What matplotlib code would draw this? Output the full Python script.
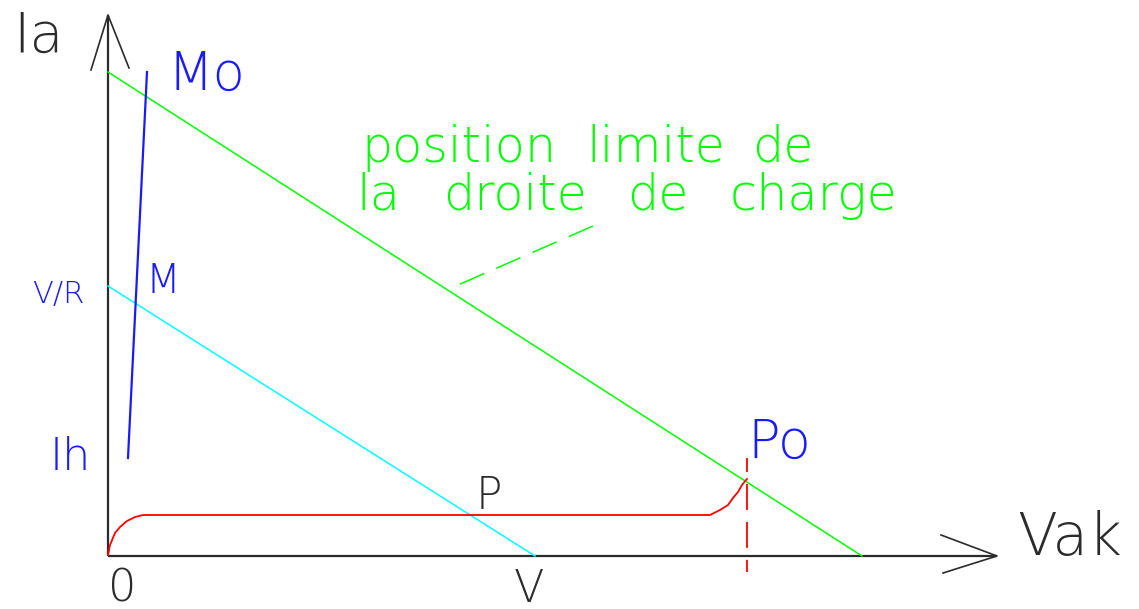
import matplotlib
matplotlib.use("Agg")
import matplotlib.pyplot as plt

plt.rcParams['lines.scale_dashes'] = False

# ---- data (units: drawing units, origin at axes origin, x right, y up) ----
# load line (limit position): intercepts on Vak and Ia axes
load_limit_x0 = 754
load_limit_y0 = 484
# load line V/R
load_x0 = 427          # V
load_y0 = 270          # V/R
# blue characteristic Ih -> M -> Mo
blue_x = [20, 39]
blue_y = [98, 484]
# red characteristic (0 -> P plateau -> Po)
red_x = [0, 2, 7, 12, 19, 27, 35, 602, 612, 620, 625, 630, 634, 638, 639]
red_y = [1, 11, 23, 29, 35, 39, 41, 41, 46, 51, 58, 64, 71, 76, 77]
# Po vertical dashed marker
po_x = 639
po_y = [98, -16]
# leader line for the note
leader_x = [485, 350]
leader_y = [330, 271]
# note words (line 1, line 2) and their centre positions
note_line1 = ['position', 'limite', 'de']
note_line1_x = [351, 548, 675]
note_line2 = ['la', 'droite', 'de', 'charge']
note_line2_x = [270, 407, 550, 706]
note_baselines = [394, 346]
# axes extents and arrow heads
yaxis_top = 541
xaxis_end = 889
yarrow_x = [-17, 0, 21]
yarrow_y = [486, 541, 488]
xarrow_x = [833, 889, 835]
xarrow_y = [21, 0, -17]

fig = plt.figure(figsize=(11.39, 6.09), dpi=100)
ax = fig.add_axes([0, 0, 1, 1])
ax.set_xlim(-108, 1031)
ax.set_ylim(-53, 556)
ax.axis('off')

axc = '#2b2b2b'
GREEN = '#00ff00'
CYAN = '#00ffff'
BLUE = '#1a1aff'
RED = '#ff0000'

# axes
ax.plot([0, 0], [0, yaxis_top], color=axc, lw=1.6, solid_capstyle='butt')
ax.plot([0, xaxis_end], [0, 0], color=axc, lw=1.6, solid_capstyle='butt')
ax.plot(yarrow_x, yarrow_y, color=axc, lw=1.2)
ax.plot(xarrow_x, xarrow_y, color=axc, lw=1.2)

# load lines
ax.plot([0, load_limit_x0], [load_limit_y0, 0], color=GREEN, lw=1.1)
ax.plot([0, load_x0], [load_y0, 0], color=CYAN, lw=1.1)

# characteristics
ax.plot(blue_x, blue_y, color=BLUE, lw=1.6)
ax.plot(red_x, red_y, color=RED, lw=1.3)
ax.plot([po_x, po_x], po_y, color=RED, lw=1.3, linestyle=(8.6, (18.7, 8.6)))

# leader
ax.plot(leader_x, leader_y, color=GREEN, lw=1.1, linestyle=(0, (19, 9.5)))

fam = ['DejaVu Sans']
w = 'light'

def txt(x, y, s, size, color, ha='left'):
    ax.text(x, y, s, fontsize=size, color=color, ha=ha, va='baseline',
            family=fam, fontweight=w)

txt(-95, 504, 'Ia', 40, axc)
txt(59, 466, 'Mo', 38, BLUE)
txt(38, 263, 'M', 29, BLUE)
txt(-76, 253, 'V/R', 22, BLUE)
txt(-58, 86, 'Ih', 32, BLUE)
txt(0, -46, '0', 32, axc)
txt(406, -46, 'V', 32, axc)
txt(368, 47, 'P', 31.5, axc)
txt(639, 98, 'Po', 39, BLUE)
txt(909, 1, 'Vak', 42, axc)
for word, x in zip(note_line1, note_line1_x):
    txt(x, note_baselines[0], word, 35.5, GREEN, ha='center')
for word, x in zip(note_line2, note_line2_x):
    txt(x, note_baselines[1], word, 35.5, GREEN, ha='center')

fig.savefig('out.png', dpi=100)
